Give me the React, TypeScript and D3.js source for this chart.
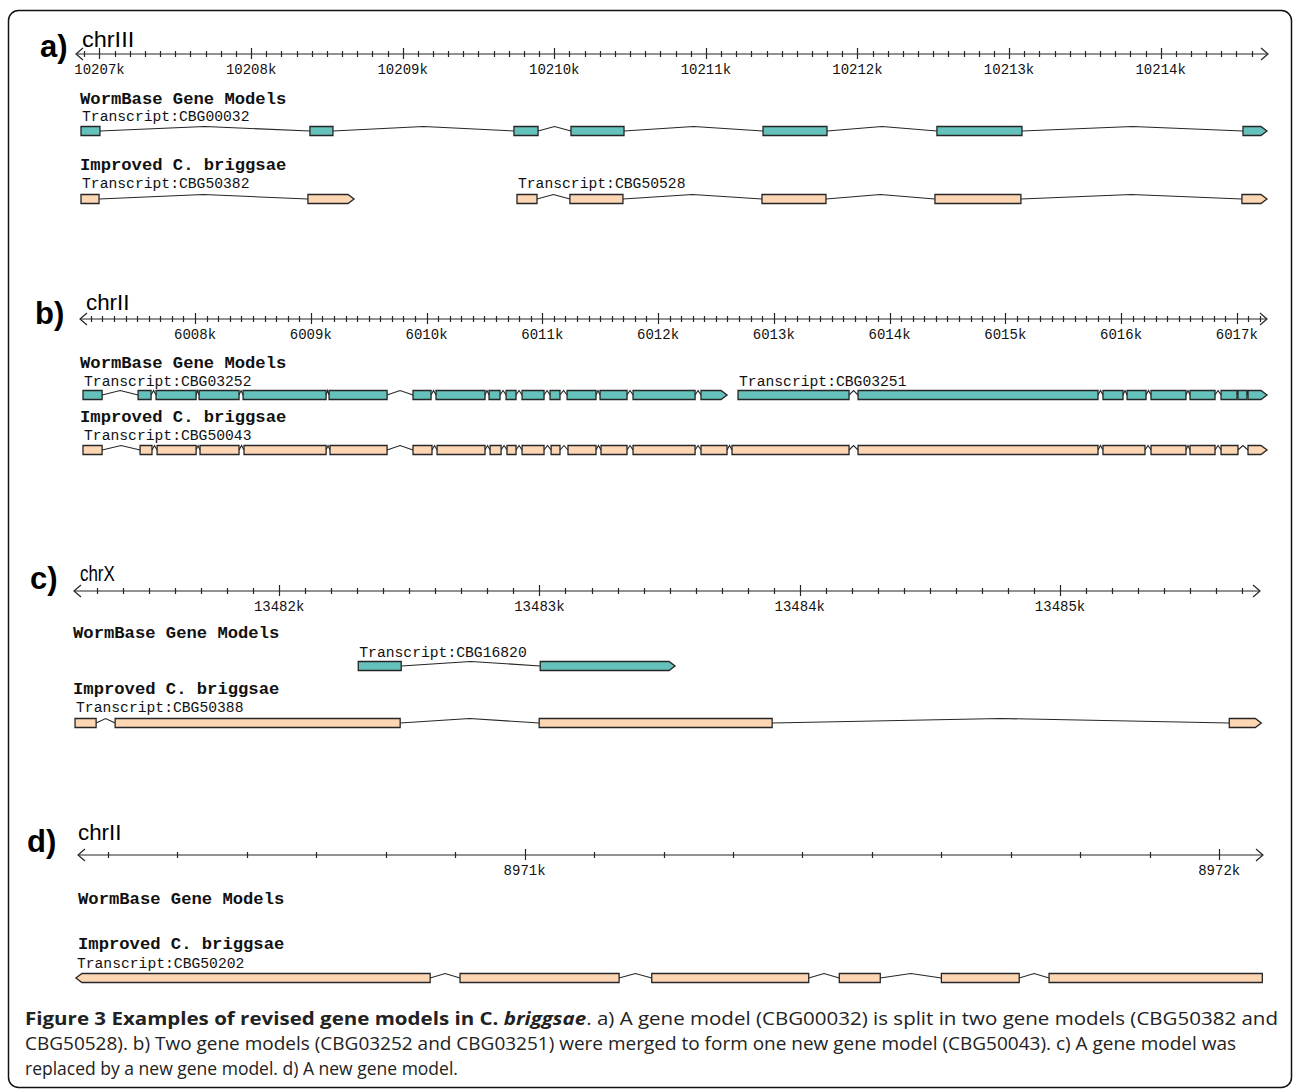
import { useRef, useEffect } from 'react';
import * as d3 from 'd3';

// ---- data (genomic coordinates, bp) ----
const panelLetters = ['a)', 'b)', 'c)', 'd)'];
const chromNames = ['chrIII', 'chrII', 'chrX', 'chrII'];
const viewStarts = [10206845, 6007006, 13481212, 8970357];
const viewEnds = [10214708, 6017261, 13485768, 8972063];
const majorStep = 1000;
const minorStep = 100;
const trackTitles = ['WormBase Gene Models', 'Improved C. briggsae'];

// a) chrIII
const exonsCBG00032 = [
    [10206878, 10207003], [10208388, 10208540], [10209734, 10209893], [10210110, 10210460],
    [10211377, 10211799], [10212524, 10213085], [10214543, 10214701]
];
const exonsCBG50382 = [[10206878, 10206997], [10208375, 10208679]];
const exonsCBG50528 = [
    [10209754, 10209886], [10210103, 10210453], [10211370, 10211792], [10212511, 10213078],
    [10214536, 10214701]
];

// b) chrII
const exonsCBG03252 = [
    [6007032, 6007197], [6007508, 6007620], [6007663, 6008009], [6008035, 6008380],
    [6008415, 6009132], [6009158, 6009659], [6009883, 6010039], [6010082, 6010505],
    [6010540, 6010635], [6010687, 6010773], [6010825, 6011015], [6011067, 6011153],
    [6011214, 6011464], [6011499, 6011732], [6011784, 6012320], [6012371, 6012596]
];
const exonsCBG03251 = [
    [6012691, 6013650], [6013728, 6015801], [6015844, 6016017], [6016052, 6016216],
    [6016259, 6016561], [6016596, 6016812], [6016864, 6017002], [6017010, 6017088],
    [6017097, 6017261]
];
const exonsCBG50043 = [
    [6007032, 6007197], [6007525, 6007628], [6007672, 6008009], [6008043, 6008380],
    [6008423, 6009132], [6009166, 6009659], [6009883, 6010047], [6010091, 6010505],
    [6010549, 6010644], [6010695, 6010773], [6010825, 6011015], [6011076, 6011153],
    [6011222, 6011464], [6011507, 6011732], [6011784, 6012320], [6012371, 6012596],
    [6012639, 6013650], [6013728, 6015801], [6015844, 6016207], [6016259, 6016561],
    [6016596, 6016812], [6016864, 6017010], [6017097, 6017261]
];

// c) chrX
const exonsCBG16820 = [[13482304, 13482469], [13483003, 13483521]];
const exonsCBG50388 = [
    [13481216, 13481297], [13481370, 13482465], [13482999, 13483894], [13485650, 13485773]
];

// d) chrII
const exonsCBG50202 = [
    [8970354, 8970864], [8970907, 8971136], [8971183, 8971409], [8971453, 8971512],
    [8971600, 8971712], [8971755, 8972062]
];

// transcripts per panel: [wormbase track, improved track]
const panelTranscripts = [
    [
        [{ name: 'Transcript:CBG00032', strand: '+', exons: exonsCBG00032 }],
        [
            { name: 'Transcript:CBG50382', strand: '+', exons: exonsCBG50382 },
            { name: 'Transcript:CBG50528', strand: '+', exons: exonsCBG50528 }
        ]
    ],
    [
        [
            { name: 'Transcript:CBG03252', strand: '+', exons: exonsCBG03252 },
            { name: 'Transcript:CBG03251', strand: '+', exons: exonsCBG03251 }
        ],
        [{ name: 'Transcript:CBG50043', strand: '+', exons: exonsCBG50043 }]
    ],
    [
        [{ name: 'Transcript:CBG16820', strand: '+', exons: exonsCBG16820 }],
        [{ name: 'Transcript:CBG50388', strand: '+', exons: exonsCBG50388 }]
    ],
    [
        [],
        [{ name: 'Transcript:CBG50202', strand: '-', exons: exonsCBG50202 }]
    ]
];

const captionLines = [
    [
        { t: 'Figure 3 Examples of revised gene models in ', b: true },
        { t: 'C. ', b: true },
        { t: 'briggsae', b: true, i: true },
        { t: '. a) A gene model (CBG00032) is split in two gene models (CBG50382 and' }
    ],
    [{ t: 'CBG50528). b) Two gene models (CBG03252 and CBG03251) were merged to form one new gene model (CBG50043). c) A gene model was' }],
    [{ t: 'replaced by a new gene model. d) A new gene model.' }]
];

// ---- layout ----
const W = 1293;
const H = 1090;
const TEAL = '#64c1bb';
const PEACH = '#fdd6b4';
const INK = '#262626';
const MONO = '"Liberation Mono", "DejaVu Sans Mono", monospace';
const SANS = '"Liberation Sans", Arial, sans-serif';

const layouts = [
    { letterX: 40, letterY: 57, chromX: 82, chromY: 47, rulerY: 54, x0: 76, x1: 1268, titleX: 80,
      tracks: [{ titleY: 104, labelY: 121, rowY: 131 }, { titleY: 170, labelY: 188, rowY: 199 }] },
    { letterX: 35, letterY: 324, chromX: 86, chromY: 310, rulerY: 319, x0: 80, x1: 1267, titleX: 80,
      tracks: [{ titleY: 368, labelY: 386, rowY: 395 }, { titleY: 422, labelY: 440, rowY: 450 }] },
    { letterX: 30, letterY: 589, chromX: 80, chromY: 581, rulerY: 591, x0: 74, x1: 1260, titleX: 73,
      tracks: [{ titleY: 638, labelY: 657, rowY: 666 }, { titleY: 694, labelY: 712, rowY: 723 }] },
    { letterX: 27, letterY: 852, chromX: 78, chromY: 840, rulerY: 855, x0: 78, x1: 1263, titleX: 78,
      tracks: [{ titleY: 904, labelY: 922, rowY: 932 }, { titleY: 949, labelY: 968, rowY: 978 }] }
];

const EXON_H = 9;
const ARROW = 6;

export default function App() {
    const svgRef = useRef(null);

    useEffect(() => {
        const svg = d3.select(svgRef.current);
        svg.selectAll('*').remove();

        svg.append('rect').attr('width', W).attr('height', H).attr('fill', '#fff');

        // frame
        svg.append('rect')
            .attr('x', 8.5).attr('y', 10.5)
            .attr('width', 1283).attr('height', 1077)
            .attr('rx', 10)
            .attr('fill', 'none')
            .attr('stroke', '#111')
            .attr('stroke-width', 1.5);

        layouts.forEach((lay, p) => {
            const g = svg.append('g');
            const x = d3.scaleLinear().domain([viewStarts[p], viewEnds[p]]).range([lay.x0, lay.x1]);

            // panel letter + chromosome name
            g.append('text')
                .attr('x', lay.letterX).attr('y', lay.letterY)
                .attr('font-family', SANS).attr('font-weight', 'bold').attr('font-size', 31)
                .text(panelLetters[p]);
            g.append('text')
                .attr('x', lay.chromX).attr('y', lay.chromY)
                .attr('font-family', SANS).attr('font-size', 22)
                .attr('textLength', chromNames[p].length * 8.7).attr('lengthAdjust', 'spacingAndGlyphs')
                .text(chromNames[p]);

            // ruler
            const ry = lay.rulerY;
            const ruler = g.append('g').attr('stroke', INK).attr('stroke-width', 1.2).attr('fill', 'none');
            ruler.append('line').attr('x1', lay.x0).attr('x2', lay.x1).attr('y1', ry).attr('y2', ry);
            ruler.append('path').attr('d', `M${lay.x0 + 7},${ry - 6}L${lay.x0},${ry}L${lay.x0 + 7},${ry + 6}`);
            ruler.append('path').attr('d', `M${lay.x1 - 7},${ry - 6}L${lay.x1},${ry}L${lay.x1 - 7},${ry + 6}`);

            const minor = d3.range(Math.ceil(viewStarts[p] / minorStep) * minorStep, viewEnds[p], minorStep)
                .filter(v => v % majorStep !== 0 && x(v) > lay.x0 + 4 && x(v) < lay.x1 - 4);
            const major = d3.range(Math.ceil(viewStarts[p] / majorStep) * majorStep, viewEnds[p], majorStep);

            ruler.selectAll('.minor').data(minor).enter().append('line')
                .attr('x1', d => Math.round(x(d)) + 0.5).attr('x2', d => Math.round(x(d)) + 0.5)
                .attr('y1', ry - 3).attr('y2', ry + 3);
            ruler.selectAll('.major').data(major).enter().append('line')
                .attr('x1', d => Math.round(x(d)) + 0.5).attr('x2', d => Math.round(x(d)) + 0.5)
                .attr('y1', ry - 6).attr('y2', ry + 5);

            g.selectAll('.ticklabel').data(major).enter().append('text')
                .attr('x', d => x(d)).attr('y', ry + 20)
                .attr('text-anchor', 'middle')
                .attr('font-family', MONO).attr('font-size', 14)
                .attr('fill', '#111')
                .text(d => `${d / 1000}k`);

            // tracks
            lay.tracks.forEach((tr, ti) => {
                g.append('text')
                    .attr('x', lay.titleX).attr('y', tr.titleY)
                    .attr('font-family', MONO).attr('font-weight', 'bold').attr('font-size', 17.2)
                    .attr('fill', '#111')
                    .text(trackTitles[ti]);

                const fill = ti === 0 ? TEAL : PEACH;
                panelTranscripts[p][ti].forEach(t => {
                    const cy = tr.rowY;
                    const top = cy - EXON_H / 2;
                    const bot = cy + EXON_H / 2;

                    g.append('text')
                        .attr('x', x(t.exons[0][0]) + 1).attr('y', tr.labelY)
                        .attr('font-family', MONO).attr('font-size', 14.7)
                        .attr('fill', '#111')
                        .text(t.name);

                    // introns (hat)
                    const line = d3.line();
                    for (let i = 0; i < t.exons.length - 1; i++) {
                        const a = x(t.exons[i][1]);
                        const b = x(t.exons[i + 1][0]);
                        g.append('path')
                            .attr('d', line([[a, cy], [(a + b) / 2, top], [b, cy]]))
                            .attr('fill', 'none')
                            .attr('stroke', INK)
                            .attr('stroke-width', 1.1);
                    }

                    // exons
                    const last = t.exons.length - 1;
                    t.exons.forEach((e, i) => {
                        const xs = x(e[0]);
                        const xe = x(e[1]);
                        let pts;
                        if (t.strand === '+' && i === last) {
                            pts = [[xs, top], [xe - ARROW, top], [xe, cy], [xe - ARROW, bot], [xs, bot]];
                        } else if (t.strand === '-' && i === 0) {
                            pts = [[xs, cy], [xs + ARROW, top], [xe, top], [xe, bot], [xs + ARROW, bot]];
                        } else {
                            pts = [[xs, top], [xe, top], [xe, bot], [xs, bot]];
                        }
                        g.append('polygon')
                            .attr('points', pts.map(q => q.join(',')).join(' '))
                            .attr('fill', fill)
                            .attr('stroke', INK)
                            .attr('stroke-width', 1.3)
                            .attr('stroke-linejoin', 'miter');
                    });
                });
            });
        });

        // caption
        const cap = svg.append('g').attr('font-family', '"Open Sans", "Noto Sans", sans-serif').attr('font-size', 17.5).attr('fill', '#222');
        const capY = [1025, 1050, 1075];
        const capLen = [1253, 1211, null];
        captionLines.forEach((parts, li) => {
            const tx = cap.append('text').attr('x', 25).attr('y', capY[li]);
            if (capLen[li]) tx.attr('textLength', capLen[li]).attr('lengthAdjust', 'spacingAndGlyphs');
            parts.forEach(pt => {
                tx.append('tspan')
                    .attr('font-weight', pt.b ? 'bold' : null)
                    .attr('font-style', pt.i ? 'italic' : null)
                    .text(pt.t);
            });
        });
    }, []);

    return (
        <svg ref={svgRef} width={W} height={H}
            style={{ position: 'absolute', left: 0, top: 0, display: 'block' }} />
    );
}
